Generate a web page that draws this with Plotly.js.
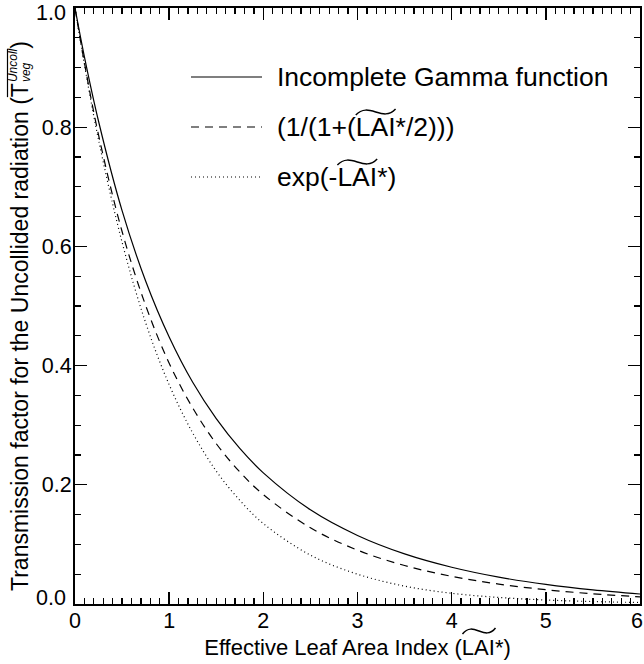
<!DOCTYPE html>
<html>
<head>
<meta charset="utf-8">
<script src="https://cdn.plot.ly/plotly-3.0.1.min.js"></script>
<style>html,body{margin:0;padding:0;background:#fff;}#chart{width:644px;height:664px;}</style>
</head>
<body>
<div id="chart"></div>
<script>
// ---- data ----
const laiValues = [0, 0.1, 0.25, 0.5, 0.75, 1, 1.25, 1.5, 1.75, 2, 2.5, 3, 3.5, 4, 4.5, 5, 5.5, 6];
const gammaValues = [1, 0.918, 0.810, 0.660, 0.542, 0.448, 0.372, 0.311, 0.261, 0.220, 0.158, 0.115, 0.0841, 0.0617, 0.0451, 0.0328, 0.0236, 0.0168];
const rationalValues = [1, 0.908, 0.787, 0.625, 0.501, 0.404, 0.329, 0.269, 0.2216, 0.1836, 0.1278, 0.0904, 0.0646, 0.0464, 0.0334, 0.0240, 0.0171, 0.0120];
const expValues = [1, 0.905, 0.779, 0.607, 0.472, 0.368, 0.287, 0.223, 0.174, 0.135, 0.082, 0.050, 0.030, 0.018, 0.011, 0.0067, 0.0041, 0.0025];
const seriesNames = ["Incomplete Gamma function", "(1/(1+(LAI*/2)))", "exp(-LAI*)"];
const legendPrefix = ["", "(1/(1+(", "exp(-"];   // text before the tilde-topped LAI
const xTickVals = [0, 1, 2, 3, 4, 5, 6];
const xTickText = ["0", "1", "2", "3", "4", "5", "6"];
const yTickVals = [0, 0.2, 0.4, 0.6, 0.8, 1.0];
const yTickText = ["0.0", "0.2", "0.4", "0.6", "0.8", "1.0"];
const xTitle = "Effective Leaf Area Index (LAI*)";
const xTitlePrefix = "Effective Leaf Area Index (";
const yTitleMain = "Transmission factor for the Uncollided radiation (T";
const yTitleSup = "Uncoll";
const yTitleSub = "veg";

// ---- layout geometry ----
const W = 644, H = 664;
const M = {l: 75, r: 4, t: 8, b: 60};
const PW = W - M.l - M.r, PH = H - M.t - M.b;
const px = x => (x - M.l) / PW;          // pixel -> paper x
const py = y => (H - M.b - y) / PH;      // pixel -> paper y
const FAM = "Liberation Sans";
const FONT = "Liberation Sans, Arial, Helvetica, sans-serif";
const TICK_FS = 21.5;
const ctx = document.createElement("canvas").getContext("2d");
function tw(text, size, italic) {
  ctx.font = (italic ? "italic " : "") + size + "px '" + FAM + "'";
  return ctx.measureText(text).width;
}

function tilde(x0, x1, yc) {
  const w = x1 - x0;
  const pts = [[x0, yc + 3], [x0 + w * 0.33, yc - 11], [x0 + w * 0.67, yc + 11], [x1, yc - 3]];
  const p = pts.map(q => px(q[0]) + "," + py(q[1]));
  return {type: "path", xref: "paper", yref: "paper",
          path: "M" + p[0] + " C" + p[1] + " " + p[2] + " " + p[3],
          line: {color: "black", width: 1.5}};
}

const dashes = ["solid", "8px,6px", "1px,3px"];
const seriesY = [gammaValues, rationalValues, expValues];
const traces = seriesY.map((ys, i) => ({
  x: laiValues, y: ys, type: "scatter", mode: "lines", name: seriesNames[i],
  line: {color: "black", width: 1.2, dash: dashes[i], shape: "spline", smoothing: 1},
  showlegend: false, hoverinfo: "x+y"
}));

const shapes = [];
const annotations = [];

// manual legend (long line samples like the original)
const LEG_FS = 26.5, LEG_X = 277;
const legRows = [77, 127, 177];
legRows.forEach((yy, i) => {
  shapes.push({type: "line", xref: "paper", yref: "paper",
    x0: px(191), x1: px(262), y0: py(yy), y1: py(yy),
    line: {color: "black", width: 1.2, dash: dashes[i]}});
  annotations.push({xref: "paper", yref: "paper", x: px(LEG_X - 2), y: py(yy),
    xanchor: "left", yanchor: "middle", showarrow: false, text: seriesNames[i],
    font: {family: FONT, size: LEG_FS, color: "black"}});
  if (i > 0) {
    const a = LEG_X + tw(legendPrefix[i], LEG_FS);
    shapes.push(tilde(a, a + tw("LAI", LEG_FS), yy - 15));
  }
});

// x title tilde
const XT_FS = 22;
const xtStart = M.l + PW / 2 - tw(xTitle, XT_FS) / 2;
const xa = xtStart + tw(xTitlePrefix, XT_FS);
shapes.push(tilde(xa, xa + tw("LAI", XT_FS), 631));

// edge tick labels nudged inside the picture, as in the original
const edgeY = [[0, 598], [5, 13]];   // [index into yTickText, centre px]
edgeY.forEach(([k, yy]) => annotations.push({xref: "paper", yref: "paper", x: px(68), y: py(yy),
  xanchor: "right", yanchor: "middle", showarrow: false, text: yTickText[k],
  font: {family: FONT, size: TICK_FS, color: "black"}}));
annotations.push({xref: "paper", yref: "paper", x: px(637), y: py(621),
  xanchor: "center", yanchor: "middle", showarrow: false, text: xTickText[6],
  font: {family: FONT, size: TICK_FS, color: "black"}});
const yTickShown = yTickText.map((t, k) => (k === 0 || k === 5) ? "" : t);
const xTickShown = xTickText.map((t, k) => k === 6 ? "" : t);

// y title built from rotated pieces so that sup/sub stack like the original
const YT_FS = 23, SUP_FS = 12;
const yStart = 591;
const tEnd = yStart - tw(yTitleMain, YT_FS);
const supEnd = tEnd - tw(yTitleSup, SUP_FS, true) - 1;
annotations.push({xref: "paper", yref: "paper", x: px(20), y: py(yStart + 2), textangle: -90,
  xanchor: "center", yanchor: "bottom", showarrow: false, text: yTitleMain,
  font: {family: FONT, size: YT_FS, color: "black"}});
annotations.push({xref: "paper", yref: "paper", x: px(13), y: py(tEnd + 1), textangle: -90,
  xanchor: "center", yanchor: "bottom", showarrow: false, text: "<i>" + yTitleSup + "</i>",
  font: {family: FONT, size: SUP_FS, color: "black"}});
annotations.push({xref: "paper", yref: "paper", x: px(26), y: py(tEnd + 1), textangle: -90,
  xanchor: "center", yanchor: "bottom", showarrow: false, text: "<i>" + yTitleSub + "</i>",
  font: {family: FONT, size: SUP_FS, color: "black"}});
annotations.push({xref: "paper", yref: "paper", x: px(20), y: py(supEnd + 2), textangle: -90,
  xanchor: "center", yanchor: "bottom", showarrow: false, text: ")",
  font: {family: FONT, size: YT_FS, color: "black"}});
shapes.push({type: "line", xref: "paper", yref: "paper",
  x0: px(7.5), x1: px(7.5), y0: py(tEnd + tw("T", YT_FS)), y1: py(supEnd),
  line: {color: "black", width: 1.2}});

const layout = {
  width: W, height: H, margin: M,
  paper_bgcolor: "white", plot_bgcolor: "white",
  showlegend: false,
  font: {family: FONT, size: 21, color: "black"},
  xaxis: {
    range: [0, 6], tickmode: "array", tickvals: xTickVals, ticktext: xTickShown,
    ticks: "inside", ticklen: 12, tickwidth: 1.4, tickcolor: "black",
    minor: {dtick: 0.1, tick0: 0, ticks: "inside", ticklen: 6, tickwidth: 1.2, tickcolor: "black"},
    showline: true, linewidth: 2, linecolor: "black", mirror: "ticks",
    showgrid: false, zeroline: false, ticklabelstandoff: -4,
    tickfont: {size: TICK_FS},
    title: {text: xTitle, font: {size: XT_FS}, standoff: 8}
  },
  yaxis: {
    range: [0, 1], tickmode: "array", tickvals: yTickVals, ticktext: yTickShown,
    ticks: "inside", ticklen: 12, tickwidth: 1.4, tickcolor: "black",
    minor: {dtick: 0.05, tick0: 0, ticks: "inside", ticklen: 6, tickwidth: 1.2, tickcolor: "black"},
    showline: true, linewidth: 2, linecolor: "black", mirror: "ticks",
    showgrid: false, zeroline: false, ticklabelstandoff: -3,
    tickfont: {size: TICK_FS}
  },
  shapes: shapes,
  annotations: annotations
};

Plotly.newPlot("chart", traces, layout, {displayModeBar: false, staticPlot: true});
</script>
</body>
</html>
